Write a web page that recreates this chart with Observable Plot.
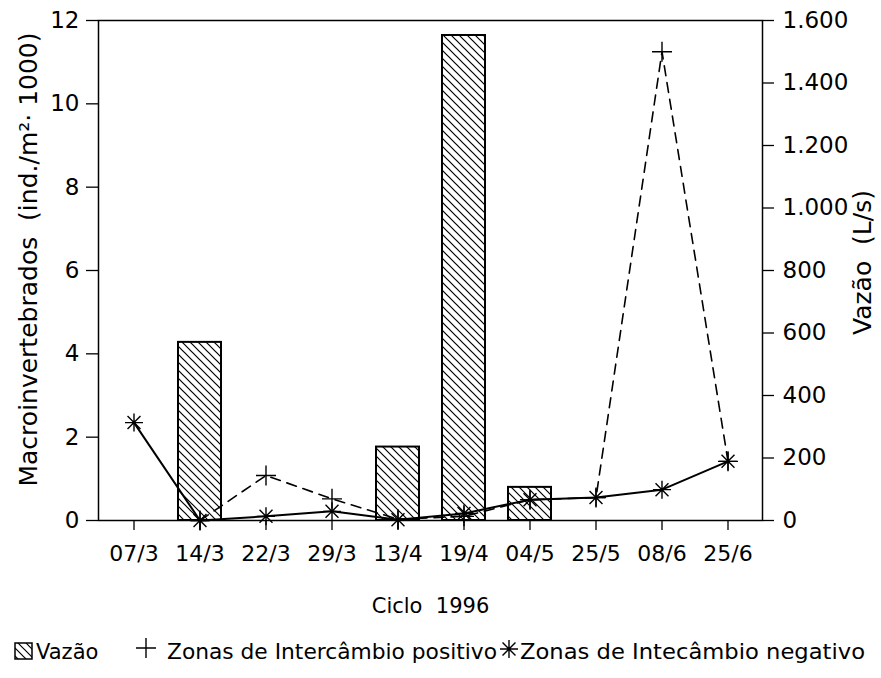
<!DOCTYPE html>
<html><head><meta charset="utf-8">
<script src="https://cdn.jsdelivr.net/npm/d3@7"></script>
<script src="https://cdn.jsdelivr.net/npm/@observablehq/plot@0.6"></script>
<style>
body{margin:0;background:#fff;font-family:"DejaVu Sans",sans-serif;}
#chart svg,#legend svg{display:block}
</style>
</head><body>
<div id="chart"></div>
<div id="legend"></div>
<script>
// ---- data ----
const dates = ["07/3","14/3","22/3","29/3","13/4","19/4","04/5","25/5","08/6","25/6"];
const vazao = [null, 570, null, null, 235, 1552, 106, null, null, null];          // L/s (right axis)
const positivo = [null, 0, 1.08, 0.52, 0.03, 0.1, 0.5, 0.55, 11.25, 1.42];        // left axis
const negativo = [2.35, 0, 0.1, 0.22, 0.02, 0.17, 0.5, 0.55, 0.74, 1.42];         // left axis
const leftTicks = [0, 2, 4, 6, 8, 10, 12];
const rightTicks = [0, 200, 400, 600, 800, 1000, 1200, 1400, 1600];
const yLabelLeft = "Macroinvertebrados  (ind./m²· 1000)";
const yLabelRight = "Vazão  (L/s)";
const xLabel = "Ciclo  1996";
const legendLabels = ["Vazão", "Zonas de Intercâmbio positivo", "Zonas de Intecâmbio negativo"];

const k = 12 / 1600; // right-axis units -> left-axis units
const rows = dates.map((d, i) => ({date: d, vazao: vazao[i], pos: positivo[i], neg: negativo[i]}));
const fmt = v => d3.format(",")(v).replace(/,/g, ".");

const plusSym = {draw(ctx) { const r = 10; ctx.moveTo(-r, 0); ctx.lineTo(r, 0); ctx.moveTo(0, -r); ctx.lineTo(0, r); }};
const starSym = {draw(ctx) { const r = 9, d = r * 0.72;
  ctx.moveTo(-r, 0); ctx.lineTo(r, 0); ctx.moveTo(0, -r); ctx.lineTo(0, r);
  ctx.moveTo(-d, -d); ctx.lineTo(d, d); ctx.moveTo(-d, d); ctx.lineTo(d, -d); }};

const chart = Plot.plot({
  width: 881,
  height: 625,
  marginLeft: 98,
  marginRight: 119,
  marginTop: 20,
  marginBottom: 105,
  style: {fontFamily: "DejaVu Sans", fontSize: "22px", color: "black", background: "white"},
  x: {type: "band", domain: dates, paddingInner: 0.35, paddingOuter: 0.175},
  y: {domain: [0, 12]},
  marks: [
    Plot.barY(rows, {x: "date", y: d => d.vazao == null ? NaN : d.vazao * k, fill: "url(#hatch)", stroke: "black", strokeWidth: 2}),
    Plot.frame({stroke: "black", strokeWidth: 1.5}),
    Plot.axisY({ticks: leftTicks, anchor: "left", tickSize: 12, tickPadding: 7, fontSize: 23, label: null, strokeWidth: 1.3}),
    Plot.axisY({ticks: rightTicks.map(v => v * k), anchor: "right", tickSize: 11, tickPadding: 9, fontSize: 23, label: null,
      tickFormat: v => fmt(Math.round(v / k)), strokeWidth: 1.3}),
    Plot.axisX({tickSize: 10, tickPadding: 15, fontSize: 22, label: null, strokeWidth: 1.3}),
    Plot.line(rows, {x: "date", y: "pos", stroke: "black", strokeWidth: 1.6, strokeDasharray: "10,7"}),
    Plot.line(rows, {x: "date", y: "neg", stroke: "black", strokeWidth: 2}),
    Plot.dot(rows, {x: "date", y: "pos", symbol: plusSym, stroke: "black", strokeWidth: 1.4, fill: "none"}),
    Plot.dot(rows, {x: "date", y: "neg", symbol: starSym, stroke: "black", strokeWidth: 1.4, fill: "none"}),
    Plot.text([yLabelLeft], {frameAnchor: "left", textAnchor: "middle", dx: -70, dy: -11, rotate: -90, fontSize: 25}),
    Plot.text([yLabelRight], {frameAnchor: "right", textAnchor: "middle", dx: 100, dy: -8, rotate: -90, fontSize: 25}),
    Plot.text([xLabel], {frameAnchor: "bottom", dy: 92, fontSize: 21})
  ]
});

// hatch pattern definition
const defs = d3.select(chart).insert("defs", ":first-child");
const pat = defs.append("pattern").attr("id", "hatch").attr("patternUnits", "userSpaceOnUse")
  .attr("width", 8).attr("height", 8);
pat.append("rect").attr("width", 8).attr("height", 8).attr("fill", "white");
pat.append("path").attr("d", "M-1,-1 L9,9 M-1,7 L1,9 M7,-1 L9,1").attr("stroke", "black").attr("stroke-width", 1.2);
document.getElementById("chart").append(chart);

// legend
const lg = d3.select("#legend").append("svg").attr("width", 881).attr("height", 53)
  .style("font-family", "DejaVu Sans").style("font-size", "21px");
lg.append("rect").attr("x", 15).attr("y", 18).attr("width", 17).attr("height", 16)
  .attr("fill", "url(#hatch)").attr("stroke", "black").attr("stroke-width", 1.5);
lg.append("text").attr("x", 36).attr("y", 34).text(legendLabels[0]);
lg.append("path").attr("transform", "translate(146,23)").attr("d", d3.symbol(plusSym)()).attr("stroke", "black").attr("stroke-width", 1.4);
lg.append("text").attr("x", 167).attr("y", 34).attr("textLength", 330).attr("lengthAdjust", "spacingAndGlyphs").text(legendLabels[1]);
lg.append("path").attr("transform", "translate(509,24)").attr("d", d3.symbol(starSym)()).attr("stroke", "black").attr("stroke-width", 1.4);
lg.append("text").attr("x", 520).attr("y", 34).attr("textLength", 345).attr("lengthAdjust", "spacingAndGlyphs").text(legendLabels[2]);
</script>
</body></html>
